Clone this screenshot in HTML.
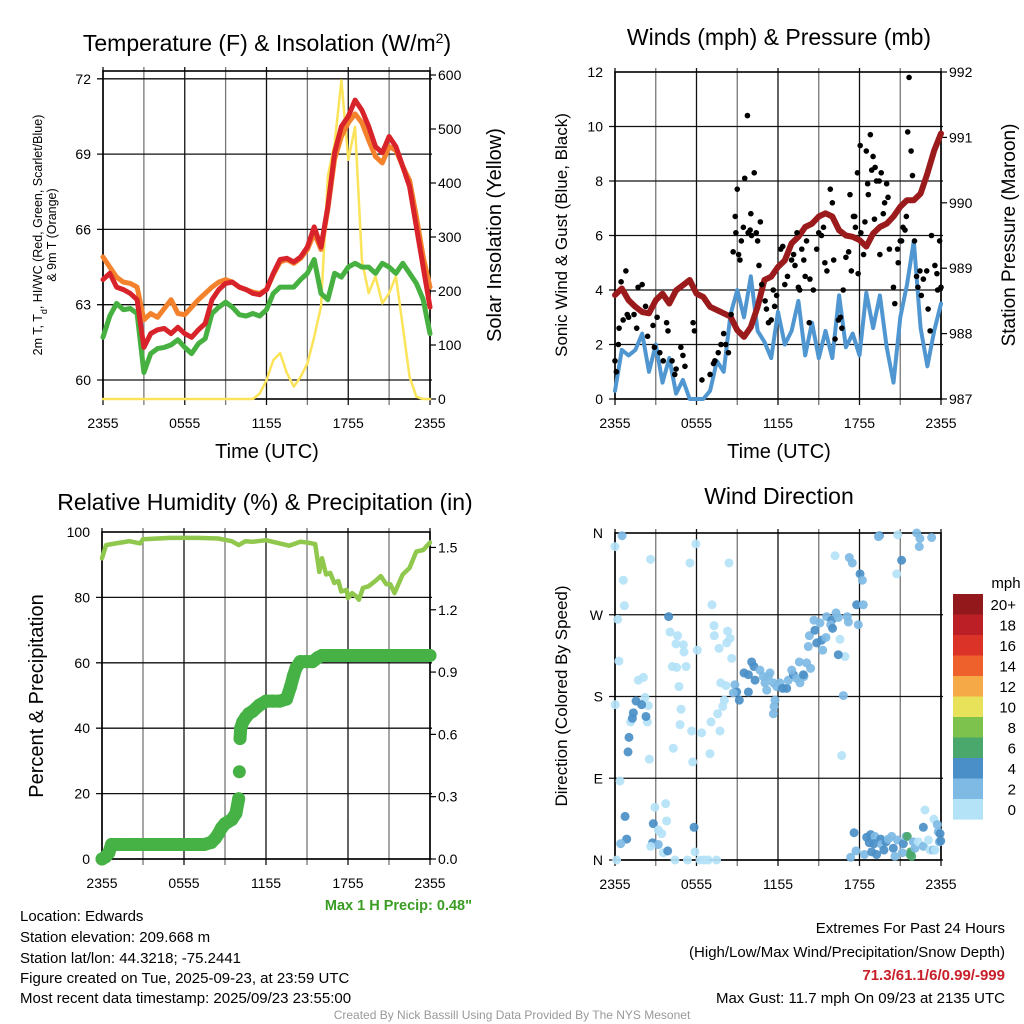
<!DOCTYPE html>
<html><head><meta charset="utf-8"><style>
html,body{margin:0;padding:0;background:#fff;}
svg{display:block;font-family:"Liberation Sans",Arial,sans-serif;}
</style></head><body>
<svg id="fig" width="1024" height="1024" viewBox="0 0 1024 1024" xmlns="http://www.w3.org/2000/svg">
<rect width="1024" height="1024" fill="#fff"/>
<g id="grids"></g>
<g id="marks"></g>
<g id="texts" fill="#000">
<text x="267" y="51" font-size="23" text-anchor="middle">Temperature (F) &amp; Insolation (W/m<tspan baseline-shift="super" font-size="14">2</tspan>)</text>
<text x="779" y="45" font-size="23" text-anchor="middle">Winds (mph) &amp; Pressure (mb)</text>
<text x="265" y="510" font-size="23" text-anchor="middle">Relative Humidity (%) &amp; Precipitation (in)</text>
<text x="779" y="504" font-size="23" text-anchor="middle">Wind Direction</text>
<text x="267" y="458" font-size="20" text-anchor="middle">Time (UTC)</text>
<text x="779" y="458" font-size="20" text-anchor="middle">Time (UTC)</text>
<text transform="translate(42,235) rotate(-90)" font-size="12.5" text-anchor="middle">2m T, T<tspan baseline-shift="sub" font-size="9">d</tspan>, HI/WC (Red, Green, Scarlet/Blue)</text>
<text transform="translate(56,235) rotate(-90)" font-size="12.5" text-anchor="middle">&amp; 9m T (Orange)</text>
<text transform="translate(501,235) rotate(-90)" font-size="20" text-anchor="middle">Solar Insolation (Yellow)</text>
<text transform="translate(567,235) rotate(-90)" font-size="17" text-anchor="middle">Sonic Wind &amp; Gust (Blue, Black)</text>
<text transform="translate(1015,235) rotate(-90)" font-size="19" text-anchor="middle">Station Pressure (Maroon)</text>
<text transform="translate(43,696) rotate(-90)" font-size="20" text-anchor="middle">Percent &amp; Precipitation</text>
<text transform="translate(567,696) rotate(-90)" font-size="17" text-anchor="middle">Direction (Colored By Speed)</text>
<text x="472" y="910" font-size="14.5" font-weight="bold" fill="#3a9d23" text-anchor="end">Max 1 H Precip: 0.48"</text>
<g font-size="15">
<text x="20" y="921">Location: Edwards</text>
<text x="20" y="942">Station elevation: 209.668 m</text>
<text x="20" y="963">Station lat/lon: 44.3218; -75.2441</text>
<text x="20" y="983">Figure created on Tue, 2025-09-23, at 23:59 UTC</text>
<text x="20" y="1003">Most recent data timestamp: 2025/09/23 23:55:00</text>
</g>
<g font-size="15" text-anchor="end">
<text x="1005" y="933">Extremes For Past 24 Hours</text>
<text x="1005" y="957">(High/Low/Max Wind/Precipitation/Snow Depth)</text>
<text x="1005" y="980" font-weight="bold" fill="#c8202a">71.3/61.1/6/0.99/-999</text>
<text x="1005" y="1003">Max Gust: 11.7 mph On 09/23 at 2135 UTC</text>
</g>
<text x="512" y="1019" font-size="12" fill="#999" text-anchor="middle">Created By Nick Bassill Using Data Provided By The NYS Mesonet</text>
</g>
</svg>
<script>
// ---------- DATA ----------
const xTickLabels = ["2355","0555","1155","1755","2355"];
const xTickHours = [0,6,12,18,24];
// Temperature panel (half-hourly, 49 values)
const tempRed = [64.0,64.25,63.7,63.6,63.45,63.2,61.3,61.85,62.0,62.05,61.85,62.1,61.85,61.7,62.0,62.25,63.2,63.6,63.85,63.9,63.7,63.6,63.45,63.4,63.6,64.25,64.8,64.85,64.7,64.9,65.3,66.1,65.3,66.9,69.05,70.1,70.5,71.15,70.75,70.1,69.3,69.05,69.7,69.3,68.5,67.7,66.1,64.5,62.9];
const temp9m = [64.9,64.5,64.1,63.9,63.85,63.7,62.4,62.65,62.5,62.85,63.2,62.65,62.6,62.9,63.2,63.45,63.7,63.9,64.0,63.9,63.7,63.6,63.5,63.45,63.6,64.2,64.7,64.8,64.65,64.85,65.2,65.85,65.2,66.8,68.8,69.7,70.25,70.6,70.25,69.55,68.9,68.65,69.3,69.15,68.5,67.95,66.5,64.9,63.7];
const dewGreen = [61.7,62.55,63.05,62.8,62.85,62.65,60.3,61.05,61.25,61.3,61.4,61.6,61.3,61.05,61.45,61.65,62.65,62.9,63.1,62.9,62.6,62.55,62.65,62.55,62.8,63.45,63.7,63.7,63.7,64.0,64.25,64.8,63.45,63.2,64.25,64.1,64.5,64.65,64.5,64.5,64.25,64.65,64.5,64.25,64.65,64.25,63.85,63.2,61.85];
const solar = [0,0,0,0,0,0,0,0,0,0,0,0,0,0,0,0,0,0,0,0,0,0,0,10,35,72,85,48,23,41,66,115,171,412,473,590,443,504,257,196,227,177,196,227,134,41,4,0,0];
const tempTicks = [60,63,66,69,72];
const solarTicks = [0,100,200,300,400,500,600];
// Wind panel
const windSpeed = [0.3,1.8,1.6,1.8,2.4,1.0,2.0,0.6,1.5,0.2,0.7,0.0,0.0,0.0,0.3,1.4,1.0,3.1,4.0,3.0,4.5,2.5,2.1,1.5,3.2,2.0,2.5,3.6,1.6,2.8,1.5,2.5,1.5,3.8,1.9,2.4,1.6,3.9,2.6,3.8,1.9,0.6,3.0,4.2,5.8,2.6,1.2,2.5,3.5];
const pressure = [988.59,988.69,988.51,988.41,988.33,988.31,988.51,988.61,988.46,988.66,988.74,988.82,988.61,988.56,988.41,988.36,988.31,988.26,988.05,987.95,988.10,988.41,988.82,988.87,989.02,989.12,989.38,989.48,989.63,989.68,989.79,989.84,989.79,989.58,989.50,989.48,989.43,989.33,989.53,989.63,989.68,989.79,989.94,990.04,990.04,990.14,990.45,990.80,991.06];
const gustHours = [0,0.1,0.25,0.3,0.45,0.8,0.6,0.9,1.0,1.4,1.6,1.7,2.0,2.25,2.4,2.8,2.9,3.1,3.3,3.55,3.8,3.9,4.2,4.4,4.5,4.85,5.0,5.15,5.75,5.85,6.4,7.0,7.25,7.35,7.6,7.8,8.0,8.15,8.35,8.55,8.7,8.85,8.9,9.0,9.1,9.2,9.3,9.45,9.55,9.75,9.8,9.95,10.05,10.25,10.0,10.4,10.5,10.6,10.7,10.8,11.05,11.15,11.3,11.5,11.65,11.75,11.9,12.2,12.35,12.5,12.7,13.0,13.15,13.25,13.4,13.5,13.6,13.75,13.9,14.0,14.1,14.3,14.35,14.6,14.85,15.0,15.2,15.35,15.45,15.6,15.85,16.0,16.1,16.2,16.45,16.6,16.7,16.8,17.0,17.2,17.3,17.4,17.55,17.65,17.7,17.85,17.9,18.05,18.1,18.3,18.4,18.5,18.6,18.65,18.8,18.9,19.0,19.1,19.15,19.25,19.45,19.5,19.6,19.75,19.85,20.0,20.1,20.2,20.5,20.6,20.8,20.85,21.0,21.1,21.2,21.35,21.45,21.55,21.65,21.8,21.9,22.05,22.2,22.3,22.45,22.55,22.7,22.95,23.05,23.2,23.3,23.55,23.7,23.75,23.9,24.0];
const gustSpeed = [1.4,1.0,2.0,2.6,4.3,4.7,2.9,3.1,3.0,3.1,2.6,4.1,4.2,3.4,2.3,2.7,1.9,3.0,1.7,1.4,2.8,2.5,1.4,0.9,1.1,1.9,1.6,1.2,2.8,2.5,0.7,0.9,1.3,1.4,1.7,2.0,2.4,2.0,1.7,3.1,5.4,6.7,6.1,7.7,5.3,5.1,5.8,6.3,8.1,10.4,6.1,6.2,6.0,8.3,6.8,6.1,5.8,4.9,6.5,4.2,3.6,3.3,2.8,2.9,4.0,3.4,3.8,5.5,5.6,4.2,4.5,5.1,5.3,4.9,6.1,4.1,4.0,5.5,5.1,4.5,5.8,2.8,4.4,4.0,5.5,6.1,6.0,6.3,5.0,4.7,7.7,7.2,5.1,2.2,2.9,3.0,2.6,4.0,5.2,5.4,7.5,4.7,6.7,6.7,6.3,8.3,4.6,9.3,6.1,5.3,6.5,9.1,7.9,7.5,9.7,8.4,8.9,6.6,8.5,8.0,8.0,5.3,8.3,6.8,7.2,7.9,7.4,5.5,4.1,3.5,5.5,5.0,5.8,5.8,6.3,6.2,6.7,9.8,11.8,9.1,8.2,5.8,4.5,4.1,4.7,3.8,4.4,4.7,3.3,2.5,6.0,4.9,4.6,4.0,5.8,4.1];
const windTicks = [0,2,4,6,8,10,12];
const pressTicks = [987,988,989,990,991,992];
// RH / precip panel
const rhHours = [0,0.3,1,2,2.8,3,5,7,8.5,9.5,10,10.5,11,12,13,13.7,14.5,15,15.6,15.9,16.1,16.4,16.7,17,17.3,17.5,17.9,18,18.3,18.6,18.8,19.1,19.5,20,20.4,20.8,21.1,21.4,22,22.5,23,23.5,24];
const rhValues = [92,96,96.5,97.2,96.5,97.8,98.2,98.2,98,97.2,96,97.2,97,97.5,96.5,95.8,97,96.8,96.3,87.8,92,87,87.5,84.4,85,81.8,82.3,79.8,81.3,80.3,79.3,82.9,83.4,85,86.5,84,84,81.3,87,89,94,94.5,96.8];
const precipHours = [0,0.25,0.5,0.7,1,1.5,2,2.5,3,3.5,4,4.5,5,5.5,6,6.5,7,7.5,8,8.3,8.5,8.75,9,9.25,9.5,9.8,10.0,10.05,10.1,10.15,10.3,10.5,10.75,11,11.5,12,12.5,13,13.5,13.8,14,14.2,14.5,15,15.4,15.8,16.1,16.5,17,18,19,20,21,22,23,24];
const precipValues = [0,0.01,0.03,0.07,0.07,0.07,0.07,0.07,0.07,0.07,0.07,0.07,0.07,0.07,0.07,0.07,0.07,0.07,0.08,0.1,0.12,0.15,0.17,0.18,0.19,0.22,0.29,0.42,0.58,0.63,0.66,0.68,0.70,0.71,0.74,0.76,0.76,0.76,0.77,0.83,0.88,0.92,0.95,0.95,0.95,0.97,0.98,0.98,0.98,0.98,0.98,0.98,0.98,0.98,0.98,0.98];
const rhTicks = [0,20,40,60,80,100];
const precipTicks = [0.0,0.3,0.6,0.9,1.2,1.5];
// Wind direction panel: hours, degrees, speed (mph)
const dirHours = [0.52,0,2.62,5.96,5.52,8.39,0.61,0.69,0.2,3.95,7.14,4.05,4.61,4.49,5.03,5.08,6.06,7.29,7.31,8.29,8.47,8.22,7.66,8.59,4.22,4.54,5.23,0.29,1.72,2.09,4.71,0.02,2.21,2.45,4.86,4.79,2.38,1.15,5.64,6.38,7.07,7.56,7.73,7.93,8.05,7.78,8.17,4.29,2.53,5.72,6.99,0.37,16.69,16.93,16.56,16.2,20.74,20.81,1.55,1.96,1.35,1.28,2.28,1.03,0.96,8.83,8.96,9.15,8.71,9.5,9.82,10.06,10.23,10.31,9.82,10.67,10.92,11.04,11.29,11.17,11.41,11.66,11.9,11.78,11.66,11.71,12.15,12.34,12.64,12.76,13.13,13.01,13.37,13.62,13.91,13.57,14.11,14.4,13.87,14.23,14.31,14.72,14.65,15.09,14.85,15.21,15.29,15.53,15.58,15.95,15.88,16.02,16.27,16.44,17.1,17.18,16.44,16.81,17.91,17.79,18.28,18.04,18.21,17.25,17.47,19.46,19.39,21.1,22.21,22.45,22.4,23.31,2.94,3.73,0.74,2.82,3.8,5.82,3.19,3.44,0.86,0.42,2.77,3.19,2.63,3.56,3.88,4.42,5.33,5.89,6.26,6.55,6.87,7.48,0.12,17.6,17.74,17.35,18.36,18.53,18.72,18.82,19.14,19.07,18.9,19.26,19.56,19.63,19.8,19.95,20.12,20.37,20.49,20.61,20.79,21.23,21.42,21.52,21.77,21.72,21.84,22.09,21.96,22.33,22.7,22.82,22.7,23.07,23.19,23.44,23.56,23.48,23.73,23.8,23.93,23.88,23.98,21.15];
const dirDegrees = [357,345,331,348,327,327,308,280,265,268,281,251,247,238,237,229,231,258,247,252,244,239,233,222,213,212,213,219,198,201,191,171,179,170,166,149,152,152,142,140,152,161,142,169,176,195,192,123,111,108,117,87,115,224,243,335,315,358,175,171,162,156,158,135,119,193,185,176,184,206,204,218,213,198,185,209,202,195,202,187,206,195,191,176,161,169,195,189,189,198,204,209,200,195,202,218,217,211,204,235,247,253,264,261,239,242,231,245,268,264,259,255,272,267,268,262,226,181,259,281,281,315,308,333,327,357,356,330,360,354,345,355,58,62,48,40,43,36,33,29,23,18,19,17,15,8,10,0,0,9,0,0,0,0,0,30,10,3,6,25,19,28,26,18,9,6,23,17,11,20,23,26,13,4,22,18,26,26,9,6,4,13,20,20,15,55,36,22,11,11,11,45,39,31,29,20,21,8];
const dirSpeed = [3,1,1,1,1,1,1,1,1,5,1,1,1,1,1,1,1,1,1,1,1,1,1,1,1,1,1,1,1,1,1,1,1,1,1,1,1,1,1,1,1,1,1,1,1,1,1,1,1,1,1,1,1,1,1,1,1,1,5,5,5,5,5,5,5,3,5,5,3,5,5,5,5,5,5,3,3,3,3,3,3,3,3,3,3,3,3,5,5,3,5,3,3,3,3,3,3,3,5,3,3,5,3,3,5,5,3,3,3,5,3,5,3,3,3,3,5,3,3,5,3,5,3,3,3,5,3,5,3,3,3,3,1,1,5,5,1,5,1,1,5,3,5,3,1,1,5,1,1,1,1,1,1,1,1,5,3,3,3,5,5,5,3,5,5,5,5,3,5,5,3,3,5,3,3,5,3,7,7,7,7,3,3,1,3,1,5,1,1,3,1,1,3,3,5,3,5,3];
const legendLabels = ["20+","18","16","14","12","10","8","6","4","2","0"];
const legendColors = ["#93181b","#bd1f27","#dc3329","#ef612c","#f5a947","#e7e25a","#7cc24d","#4aa86d","#4a8fc7","#7ebae4","#b4e2f7"];

// ---------- AXES ----------
const NS = "http://www.w3.org/2000/svg";
const P1 = {x0:103,x1:430,y0:71,y1:399};
const P2 = {x0:615,x1:941,y0:72,y1:399};
const P3 = {x0:102,x1:430,y0:532,y1:859};
const P4 = {x0:615,x1:941,y0:533,y1:860};
function xH(p,h){return p.x0 + h*(p.x1-p.x0)/24;}
function yTemp(v){return 380 - (v-60)*25.1;}
function ySolar(v){return 399 - v*0.54;}
function yWind(v){return 399 - v*27.25;}
function yPress(v){return 399 - (v-987)*65.4;}
function yRH(v){return 859 - v*3.27;}
function yPrecip(v){return 859 - v*207.7;}
function yDir(d){return 860 - d*327/360;}
function speedColor(s){
  if(s>=20) return legendColors[0];
  const i = 10 - Math.floor(s/2);
  return legendColors[Math.max(0,Math.min(10,i))];
}
const grids = document.getElementById('grids');
const marks = document.getElementById('marks');
function mk(tag, attrs, parent){
  const e = document.createElementNS(NS, tag);
  for(const k in attrs) e.setAttribute(k, attrs[k]);
  (parent||marks).appendChild(e);
  return e;
}
function txt(x,y,s,anchor,size,parent){
  const t = mk('text',{x:x,y:y,'font-size':size||14,'text-anchor':anchor||'middle'},parent||grids);
  t.textContent = s;
  return t;
}
function panelFrame(p, hLinesY, name){
  for(let i=0;i<=8;i++){
    const x = p.x0 + i*(p.x1-p.x0)/8;
    const l = mk('line',{x1:x,x2:x,y1:p.y0-4,y2:p.y1+6,stroke:(i%2==0)?'#111':'#777','stroke-width':1.3},grids);
    
    
  }
  hLinesY.forEach(y=>{
    const l = mk('line',{x1:p.x0-6,x2:p.x1+2,y1:y,y2:y,stroke:'#111','stroke-width':1.3},grids);
    
    
  });
  const r = mk('rect',{x:p.x0,y:p.y0,width:p.x1-p.x0,height:p.y1-p.y0,fill:'none',stroke:'#000','stroke-width':1.6},grids);
  
  
  xTickHours.forEach((h,i)=>{
    const t = txt(xH(p,h), p.y1+29, xTickLabels[i], 'middle', 14);
    
    
  });
}
function rightTicks(p, vals, fy, fmt, name){
  vals.forEach(v=>{
    const y = fy(v);
    mk('line',{x1:p.x1,x2:p.x1+6,y1:y,y2:y,stroke:'#000','stroke-width':1.2},grids);
    const t = txt(p.x1+8, y+5, fmt(v), 'start', 14);
    
    
  });
}
function leftLabels(p, vals, fy, fmt, name){
  vals.forEach(v=>{
    const t = txt(p.x0-12, fy(v)+5, fmt(v), 'end', 14);
    
    
  });
}
function poly(xs, ys, color, w, name){
  let d = '';
  for(let i=0;i<xs.length;i++) d += (i?'L':'M') + xs[i].toFixed(1) + ' ' + ys[i].toFixed(1);
  const e = mk('path',{d:d,fill:'none',stroke:color,'stroke-width':w,'stroke-linejoin':'round','stroke-linecap':'round'});
  
  
  return e;
}

// ---------- PANEL 1 ----------
panelFrame(P1, tempTicks.map(yTemp), 'temp');
leftLabels(P1, tempTicks, yTemp, v=>v, 'temp');
rightTicks(P1, solarTicks, ySolar, v=>v, 'solar');
const idx = tempRed.map((_,i)=>i*0.5);
poly(idx.map(h=>xH(P1,h)), solar.map(ySolar), '#fbe35a', 2.5, 'solar-insolation-line');
poly(idx.map(h=>xH(P1,h)), temp9m.map(yTemp), '#f4822c', 5, 'temp-9m-line');
poly(idx.map(h=>xH(P1,h)), dewGreen.map(yTemp), '#46b040', 5, 'dewpoint-line');
poly(idx.map(h=>xH(P1,h)), tempRed.map(yTemp), '#d72329', 5, 'temp-2m-line');

// ---------- PANEL 2 ----------
panelFrame(P2, windTicks.map(yWind).filter(y=>y>P2.y0+2), 'wind');
leftLabels(P2, windTicks, yWind, v=>v, 'wind');
rightTicks(P2, pressTicks, yPress, v=>v, 'pressure');
poly(idx.map(h=>xH(P2,h)), windSpeed.map(yWind), '#5097d2', 4, 'wind-speed-line');
poly(idx.map(h=>xH(P2,h)), pressure.map(yPress), '#9b1b1d', 6, 'pressure-line');
gustHours.forEach((h,i)=>{
  const c = mk('circle',{cx:xH(P2,h),cy:yWind(gustSpeed[i]),r:2.8,fill:'#000'});
  
  
});

// ---------- PANEL 3 ----------
panelFrame(P3, rhTicks.slice(0,5).map(yRH), 'rh');
leftLabels(P3, rhTicks, yRH, v=>v, 'rh');
rightTicks(P3, precipTicks, yPrecip, v=>v.toFixed(1), 'precip');
poly(rhHours.map(h=>xH(P3,h)), rhValues.map(yRH), '#8fc84c', 4.5, 'rh-line');
for(let i=1;i<precipHours.length;i++){
  const xa=xH(P3,precipHours[i-1]), ya=yPrecip(precipValues[i-1]), xb=xH(P3,precipHours[i]), yb=yPrecip(precipValues[i]);
  if(Math.hypot(xb-xa,yb-ya) < 20){
    const l = mk('line',{x1:xa,y1:ya,x2:xb,y2:yb,stroke:'#46b246','stroke-width':13,'stroke-linecap':'round'});
    
    
  }
}
precipHours.forEach((h,i)=>{
  const c = mk('circle',{cx:xH(P3,h),cy:yPrecip(precipValues[i]),r:6.5,fill:'#46b246'});
  
  
});

// ---------- PANEL 4 ----------
panelFrame(P4, [0,90,180,270].map(yDir), 'dir');
const dirLabels = ["N","E","S","W","N"];
[0,90,180,270,360].forEach((d,i)=>{
  const t = txt(P4.x0-12, yDir(d)+5, dirLabels[i], 'end', 14);
  
  
});
dirHours.forEach((h,i)=>{
  const c = mk('circle',{cx:xH(P4,h),cy:yDir(dirDegrees[i]),r:4.5,fill:speedColor(dirSpeed[i]),'fill-opacity':0.92});
  
  
});
// legend
const mphT = txt(1006, 588, 'mph', 'middle', 15);


legendLabels.forEach((lab,i)=>{
  const y = 594 + i*20.5;
  const r = mk('rect',{x:953,y:y,width:30,height:20.6,fill:legendColors[i]});
  
  
  const t = txt(1016, y+16, lab, 'end', 15);
  
  
});
</script>
</body></html>
